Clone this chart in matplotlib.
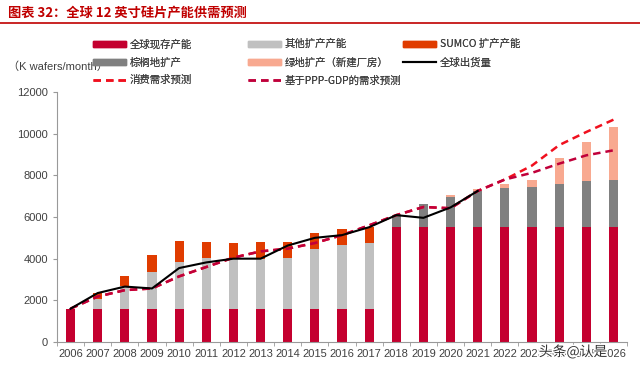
import numpy as np
import matplotlib.pyplot as plt
from matplotlib.patches import Patch
from matplotlib.lines import Line2D
import matplotlib.patheffects as pe

years = [str(y) for y in range(2006, 2027)]

# stacked capacity (K wafers/month)
existing = [1600] * 12 + [5500] * 9
other_exp = [0, 480, 1080, 1760, 2240, 2440, 2450, 2380, 2410, 2860, 3070, 3130] + [0] * 9
sumco_exp = [0, 290, 500, 830, 1030, 740, 710, 800, 770, 765, 745, 770] + [0] * 9
brown_exp = [0] * 12 + [590, 1120, 1480, 1750, 1870, 1930, 2075, 2235, 2265]
green_exp = [0] * 14 + [100, 115, 205, 335, 1260, 1850, 2540]

# lines
shipments = [1600, 2350, 2660, 2570, 3550, 3820, 4000, 4000, 4630, 5000, 5130,
             5510, 6090, 5960, 6460, 7250]
demand_hist = [1600, 2180, 2490, 2570, 3150, 3600, 4050, 4350, 4480, 4750, 5130,
               5600, 6090, 6480, 6420, 7250, 7800]
consumer_fc = demand_hist + [8470, 9450, 10080, 10670]
pppgdp_fc = demand_hist + [8120, 8560, 8960, 9200]

labels = ["全球现存产能", "其他扩产产能", "SUMCO 扩产产能",
          "棕榈地扩产", "绿地扩产（新建厂房）", "全球出货量",
          "消费需求预测", "基于PPP-GDP的需求预测"]

c_exist = "#C4002F"
c_other = "#C0C0C0"
c_sumco = "#E03C00"
c_brown = "#808080"
c_green = "#F8A990"
c_cons = "#F0101E"
c_ppp = "#C0003A"

cjk = ["Noto Sans CJK SC", "DejaVu Sans"]
txt = "#404040"

fig = plt.figure(figsize=(6.4, 3.7), dpi=100)
ax = fig.add_axes([57 / 640, 1 - 342 / 370, 570 / 640, 250 / 370])

x = np.arange(len(years))
w = 0.34
bottom = np.zeros(len(years))
for vals, col in [(existing, c_exist), (other_exp, c_other), (sumco_exp, c_sumco),
                  (brown_exp, c_brown), (green_exp, c_green)]:
    ax.bar(x, vals, w, bottom=bottom, color=col, zorder=2)
    bottom += np.array(vals)

ax.plot(x[:len(consumer_fc)], consumer_fc, color=c_cons, lw=1.8, dashes=(3, 2), zorder=3)
ax.plot(x[:len(pppgdp_fc)], pppgdp_fc, color=c_ppp, lw=1.8, dashes=(3, 2), zorder=3)
ax.plot(x[:len(shipments)], shipments, color="black", lw=1.5, zorder=4)

ax.set_xlim(-0.5, len(years) - 0.5)
ax.set_ylim(0, 12000)
ax.set_yticks(range(0, 12001, 2000))
ax.set_xticks(x)
ax.set_xticklabels(years)
ax.set_xticks(np.arange(-0.5, len(years), 1), minor=True)
ax.tick_params(axis="x", which="major", length=0, pad=5)
ax.tick_params(axis="x", which="minor", length=3, color="#999999")
ax.tick_params(axis="y", length=3, color="#999999")
for lab in ax.get_xticklabels() + ax.get_yticklabels():
    lab.set_family("Liberation Sans")
    lab.set_fontsize(8)
    lab.set_color(txt)
for s in ["top", "right"]:
    ax.spines[s].set_visible(False)
for s in ["left", "bottom"]:
    ax.spines[s].set_color("#999999")

# legend in three columns
handles = [Patch(color=c_exist), Patch(color=c_other), Patch(color=c_sumco),
           Patch(color=c_brown), Patch(color=c_green),
           Line2D([], [], color="black", lw=1.5),
           Line2D([], [], color=c_cons, lw=1.8, dashes=(3, 2)),
           Line2D([], [], color=c_ppp, lw=1.8, dashes=(3, 2))]
col_x = [88 / 640, 243 / 640, 398 / 640]
for i in range(3):
    idx = [k for k in range(i, len(labels), 3)]
    leg = fig.legend([handles[k] for k in idx], [labels[k] for k in idx],
                     loc="upper left", bbox_to_anchor=(col_x[i], 1 - 34 / 370),
                     frameon=False, handlelength=3.1, handleheight=0.5,
                     handletextpad=0.4, labelspacing=0.75, borderpad=0,
                     prop={"family": cjk, "size": 7.5})
    for t in leg.get_texts():
        t.set_color(txt)
    fig.add_artist(leg)

fig.text(8 / 640, 1 - 67 / 370, "（K wafers/month）", ha="left", va="center",
         fontsize=8, color=txt, family=["Liberation Sans", "Noto Sans CJK SC"])

fig.text(8 / 640, 1 - 12 / 370, "图表 32：全球 12 英寸硅片产能供需预测", ha="left",
         va="center", fontsize=9.5, fontweight="bold", color="#C00000", family=cjk)
fig.add_artist(Line2D([0, 1], [1 - 23 / 370, 1 - 23 / 370], color="#C00000", lw=1.2))

fig.text(573 / 640, 1 - 352 / 370, "头条@认是", ha="center", va="center",
         fontsize=10, color="#333333", family=cjk,
         path_effects=[pe.withStroke(linewidth=2, foreground="white")])

fig.savefig("out.png", dpi=100)
